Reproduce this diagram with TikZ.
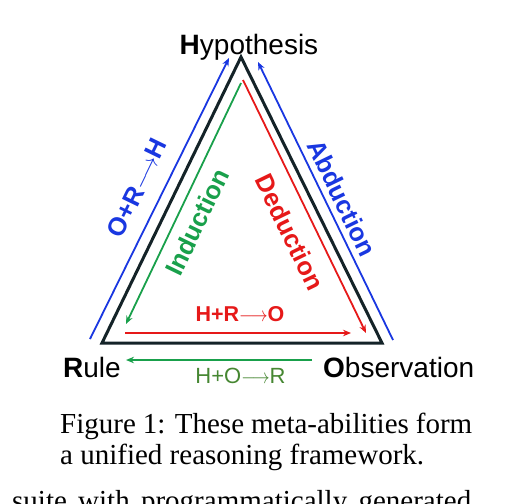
\documentclass[tikz,border=0pt]{standalone}
\usepackage{fontspec}
\setmainfont{Liberation Serif}
\setsansfont{Liberation Sans}
\usepackage{graphicx}
\usetikzlibrary{arrows.meta}
\definecolor{cblue}{RGB}{25,55,225}
\definecolor{cred}{RGB}{230,25,25}
\definecolor{cgreen}{RGB}{25,160,75}
\definecolor{cgreentext}{RGB}{70,135,50}
\definecolor{cblack}{RGB}{20,35,40}
\newcommand{\larr}{\scalebox{0.85}[1]{$\longrightarrow$}}
\tikzset{
  tri/.style={draw=cblack, line width=3pt, line join=miter},
  arr/.style={line width=1.8pt, -{Stealth[length=8pt,width=6.5pt]}},
  vert/.style={font=\sffamily\fontsize{28}{30}\selectfont, inner sep=0pt, text=black},
  side/.style={font=\sffamily\bfseries\fontsize{25.5}{28}\selectfont, inner sep=0pt},
  captext/.style={font=\rmfamily\fontsize{29}{32}\selectfont, inner sep=0pt, text=black}
}
\begin{document}
\begin{tikzpicture}[x=1pt,y=-1pt]
\useasboundingbox (0,0) rectangle (529,503);
\fill[white] (0,0) rectangle (529,503);
% triangle corners
\coordinate (apex) at (241,57);
\coordinate (bl) at (102,343);
\coordinate (br) at (382,343);
\draw[tri] (apex) -- (bl) -- (br) -- cycle;
% blue outer arrows
\coordinate (b1s) at (90,339);
\coordinate (b1e) at (229,58);
\coordinate (b2s) at (393,340);
\coordinate (b2e) at (258,62);
\draw[arr, cblue] (b1s) -- (b1e);
\draw[arr, cblue] (b2s) -- (b2e);
% green inner left
\coordinate (g1s) at (241,83);
\coordinate (g1e) at (126,324);
\draw[arr, cgreen] (g1s) -- (g1e);
% red inner right
\coordinate (r1s) at (243,80);
\coordinate (r1e) at (366,333);
\draw[arr, cred] (r1s) -- (r1e);
% red horizontal
\coordinate (r2s) at (125,333);
\coordinate (r2e) at (351,333);
\draw[arr, cred] (r2s) -- (r2e);
% green horizontal
\coordinate (g2s) at (312,360);
\coordinate (g2e) at (126,360);
\draw[arr, cgreen] (g2s) -- (g2e);
% vertex labels
\node[vert, anchor=base] (hyp) at (249,55) {\textbf{H}ypothesis};
\node[vert, anchor=base west] (rule) at (63,377) {\textbf{R}ule};
\node[vert, anchor=base west] (obs) at (323,377) {\textbf{O}bservation};
% side labels
\node[side, text=cblue, rotate=64.1] (orh) at (137,188) {O+R\larr H};
\node[side, text=cgreen, rotate=64.1] (ind) at (197,222) {Induction};
\node[side, text=cblue, rotate=-64.1] (abd) at (342,198) {Abduction};
\node[side, text=cred, rotate=-64.1] (ded) at (290,232) {Deduction};
% bottom labels
\node[font=\sffamily\bfseries\fontsize{21.5}{23}\selectfont, text=cred, inner sep=0pt, anchor=base] (hro) at (240,321) {H+R\larr O};
\node[font=\sffamily\fontsize{22}{24}\selectfont, text=cgreentext, inner sep=0pt, anchor=base] (hor) at (240.5,383) {H+O\larr R};
% caption
\node[captext, anchor=base west] (cap1) at (60,433) {\makebox[412pt][s]{Figure 1: These meta-abilities form}};
\node[captext, anchor=base west] (cap2) at (60,464) {a unified reasoning framework.};
\node[captext, anchor=base west] (cap3) at (12,510) {\makebox[459pt][s]{suite with programmatically generated}};
\end{tikzpicture}
\end{document}
